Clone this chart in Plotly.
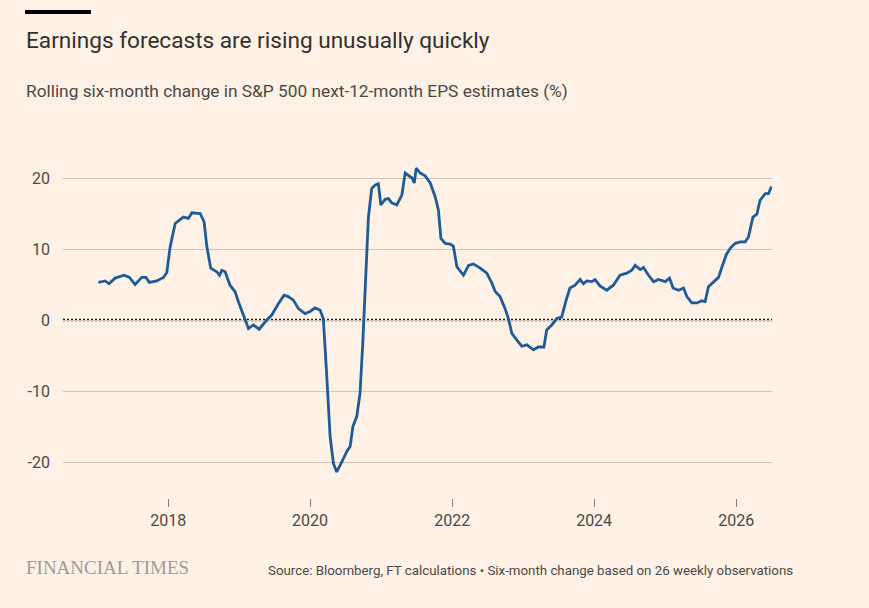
import plotly.graph_objects as go

# ---- data ----
dates = [
    "2017-01-07", "2017-02-11", "2017-03-03", "2017-04-03", "2017-05-19", "2017-06-16",
    "2017-07-15", "2017-08-18", "2017-09-09", "2017-09-26", "2017-11-03", "2017-12-08",
    "2017-12-25", "2018-01-11", "2018-02-06", "2018-03-20", "2018-04-15", "2018-05-03",
    "2018-06-15", "2018-07-05", "2018-07-19", "2018-08-08", "2018-09-08", "2018-09-22",
    "2018-10-04", "2018-10-21", "2018-11-15", "2018-12-11", "2018-12-28", "2019-01-23",
    "2019-02-18", "2019-03-15", "2019-04-14", "2019-05-23", "2019-06-18", "2019-07-22",
    "2019-08-20", "2019-09-11", "2019-10-07", "2019-11-02", "2019-12-06", "2020-01-01",
    "2020-01-26", "2020-02-21", "2020-03-09", "2020-03-27", "2020-04-13", "2020-04-30",
    "2020-05-17", "2020-06-12", "2020-07-08", "2020-07-25", "2020-08-08", "2020-08-28",
    "2020-09-14", "2020-09-28", "2020-10-10", "2020-10-27", "2020-11-13", "2020-11-30",
    "2020-12-17", "2020-12-30", "2021-01-21", "2021-02-07", "2021-02-24", "2021-03-22",
    "2021-04-17", "2021-05-04", "2021-06-08", "2021-06-20", "2021-06-30", "2021-07-20",
    "2021-08-15", "2021-09-10", "2021-10-05", "2021-10-22", "2021-11-04", "2021-11-26",
    "2021-12-21", "2022-01-07", "2022-01-25", "2022-02-28", "2022-03-26", "2022-04-20",
    "2022-05-25", "2022-06-28", "2022-07-24", "2022-08-10", "2022-09-04", "2022-09-30",
    "2022-10-17", "2022-11-04", "2022-11-29", "2022-12-25", "2023-01-20", "2023-02-23",
    "2023-03-20", "2023-04-18", "2023-05-02", "2023-05-28", "2023-06-23", "2023-07-18",
    "2023-08-10", "2023-08-30", "2023-09-25", "2023-10-21", "2023-11-07", "2023-11-24",
    "2023-12-20", "2024-01-06", "2024-01-31", "2024-03-06", "2024-04-09", "2024-05-13",
    "2024-06-17", "2024-07-13", "2024-07-30", "2024-08-25", "2024-09-11", "2024-10-07",
    "2024-11-02", "2024-11-27", "2025-01-01", "2025-01-23", "2025-02-10", "2025-03-10",
    "2025-04-05", "2025-04-22", "2025-05-18", "2025-06-13", "2025-07-08", "2025-07-25",
    "2025-08-11", "2025-09-06", "2025-10-02", "2025-10-20", "2025-11-11", "2025-12-01",
    "2025-12-27", "2026-01-22", "2026-02-16", "2026-03-05", "2026-03-28", "2026-04-17",
    "2026-05-04", "2026-05-30", "2026-06-16", "2026-06-22", "2026-07-01",
]
eps_change = [
    5.3, 5.5, 5.1, 5.9, 6.3, 6.0,
    5.0, 6.0, 6.0, 5.3, 5.5, 6.0,
    6.7, 10.3, 13.6, 14.5, 14.3, 15.1,
    15.0, 13.8, 10.3, 7.3, 6.8, 6.3,
    7.0, 6.8, 4.9, 4.0, 2.6, 0.7,
    -1.2, -0.7, -1.3, 0.0, 0.7, 2.3,
    3.5, 3.3, 2.8, 1.6, 0.9, 1.2,
    1.7, 1.4, 0.2, -8.0, -16.4, -20.2,
    -21.4, -20.0, -18.5, -17.8, -15.0, -13.6,
    -10.3, -3.3, 4.7, 14.5, 18.5, 19.0,
    19.2, 16.2, 17.0, 17.1, 16.5, 16.2,
    17.6, 20.7, 20.0, 19.3, 21.4, 20.7,
    20.3, 19.3, 17.4, 15.5, 11.5, 10.8,
    10.7, 10.4, 7.5, 6.3, 7.7, 7.9,
    7.3, 6.6, 5.2, 4.0, 3.3, 1.6,
    0.2, -1.9, -2.8, -3.7, -3.5, -4.2,
    -3.8, -3.8, -1.4, -0.7, 0.2, 0.4,
    2.8, 4.5, 4.9, 5.7, 5.1, 5.5,
    5.4, 5.7, 4.8, 4.2, 4.9, 6.3,
    6.6, 7.0, 7.7, 7.1, 7.4, 6.3,
    5.4, 5.7, 5.4, 5.9, 4.5, 4.2,
    4.5, 3.3, 2.4, 2.4, 2.7, 2.6,
    4.7, 5.3, 6.0, 7.5, 9.2, 10.1,
    10.8, 11.0, 11.0, 11.7, 14.5, 14.9,
    16.9, 17.8, 17.8, 18.2, 18.8,
]
x_tick_dates = ["2018-01-01", "2020-01-01", "2022-01-01", "2024-01-01", "2026-01-01"]
x_tick_labels = ["2018", "2020", "2022", "2024", "2026"]
y_tick_values = [-20, -10, 0, 10, 20]
y_tick_labels = ["-20", "-10", "0", "10", "20"]

title = "Earnings forecasts are rising unusually quickly"
subtitle = "Rolling six-month change in S&P 500 next-12-month EPS estimates (%)"
source = "Source: Bloomberg, FT calculations \u2022 Six-month change based on 26 weekly observations"
brand = "FINANCIAL TIMES"

# ---- layout geometry ----
W, H = 869, 608
L, R, T, B = 63, 97, 150, 110
PW, PH = W - L - R, H - T - B

def px_x(p):
    return (p - L) / PW

def px_y(p):
    return (H - B - p) / PH

BG = "#FFF1E5"
TEXT = "#33302E"
SANS = "Roboto, 'Noto Sans', sans-serif"

fig = go.Figure()
fig.add_trace(go.Scatter(
    x=dates, y=eps_change, mode="lines",
    line=dict(color="#1F5B96", width=2.8),
    hoverinfo="skip", showlegend=False,
))

fig.update_layout(
    width=W, height=H,
    margin=dict(l=L, r=R, t=T, b=B, pad=0),
    paper_bgcolor=BG, plot_bgcolor=BG,
    showlegend=False,
    font=dict(family=SANS, color=TEXT),
    xaxis=dict(
        type="date",
        range=["2016-07-09", "2026-07-04"],
        tickmode="array", tickvals=x_tick_dates, ticktext=x_tick_labels,
        showgrid=False, zeroline=False, showline=False,
        ticks="outside", ticklen=8, tickwidth=1, tickcolor="#8A837E",
        tickfont=dict(family=SANS, size=16, color="#4D4845"),
    ),
    yaxis=dict(
        range=[(H - B - 320) / -7.1, (320 - T) / 7.1],
        tickmode="array", tickvals=y_tick_values, ticktext=y_tick_labels,
        showgrid=True, gridcolor="#CEC4B9", gridwidth=1,
        zeroline=False, showline=False, ticks="",
        ticklabelstandoff=12,
        tickfont=dict(family=SANS, size=16, color="#4D4845"),
    ),
)

# zero line: cover the grid line, then dotted line
fig.add_shape(type="line", xref="paper", yref="y", x0=0, x1=1, y0=0, y1=0,
              line=dict(color=BG, width=2.5), layer="below")
fig.add_shape(type="line", xref="paper", yref="y", x0=0, x1=1, y0=0, y1=0,
              line=dict(color="#1A1817", width=2.5, dash="2px,2px"), layer="below")

# top black bar
fig.add_shape(type="rect", xref="paper", yref="paper",
              x0=px_x(25), x1=px_x(91), y0=px_y(14), y1=px_y(10),
              fillcolor="#000000", line=dict(width=0))

fig.add_annotation(text=title, xref="paper", yref="paper",
                   x=px_x(24), y=px_y(41), xanchor="left", yanchor="middle",
                   showarrow=False, font=dict(family=SANS, size=22.6, color=TEXT))
fig.add_annotation(text=subtitle, xref="paper", yref="paper",
                   x=px_x(24), y=px_y(91), xanchor="left", yanchor="middle",
                   showarrow=False, font=dict(family=SANS, size=17.3, color="#4D4845"))
fig.add_annotation(text=brand, xref="paper", yref="paper",
                   x=px_x(24), y=px_y(567), xanchor="left", yanchor="middle",
                   showarrow=False,
                   font=dict(family="'Liberation Serif', serif", size=19, color="#A19A94"))
fig.add_annotation(text=source, xref="paper", yref="paper",
                   x=px_x(795), y=px_y(570), xanchor="right", yanchor="middle",
                   showarrow=False, font=dict(family=SANS, size=13.3, color="#4D4845"))

fig.write_html(
    "out.html",
    config={"displayModeBar": False},
    post_script="document.body.style.margin='0px';document.body.style.background='#FFF1E5';",
)
